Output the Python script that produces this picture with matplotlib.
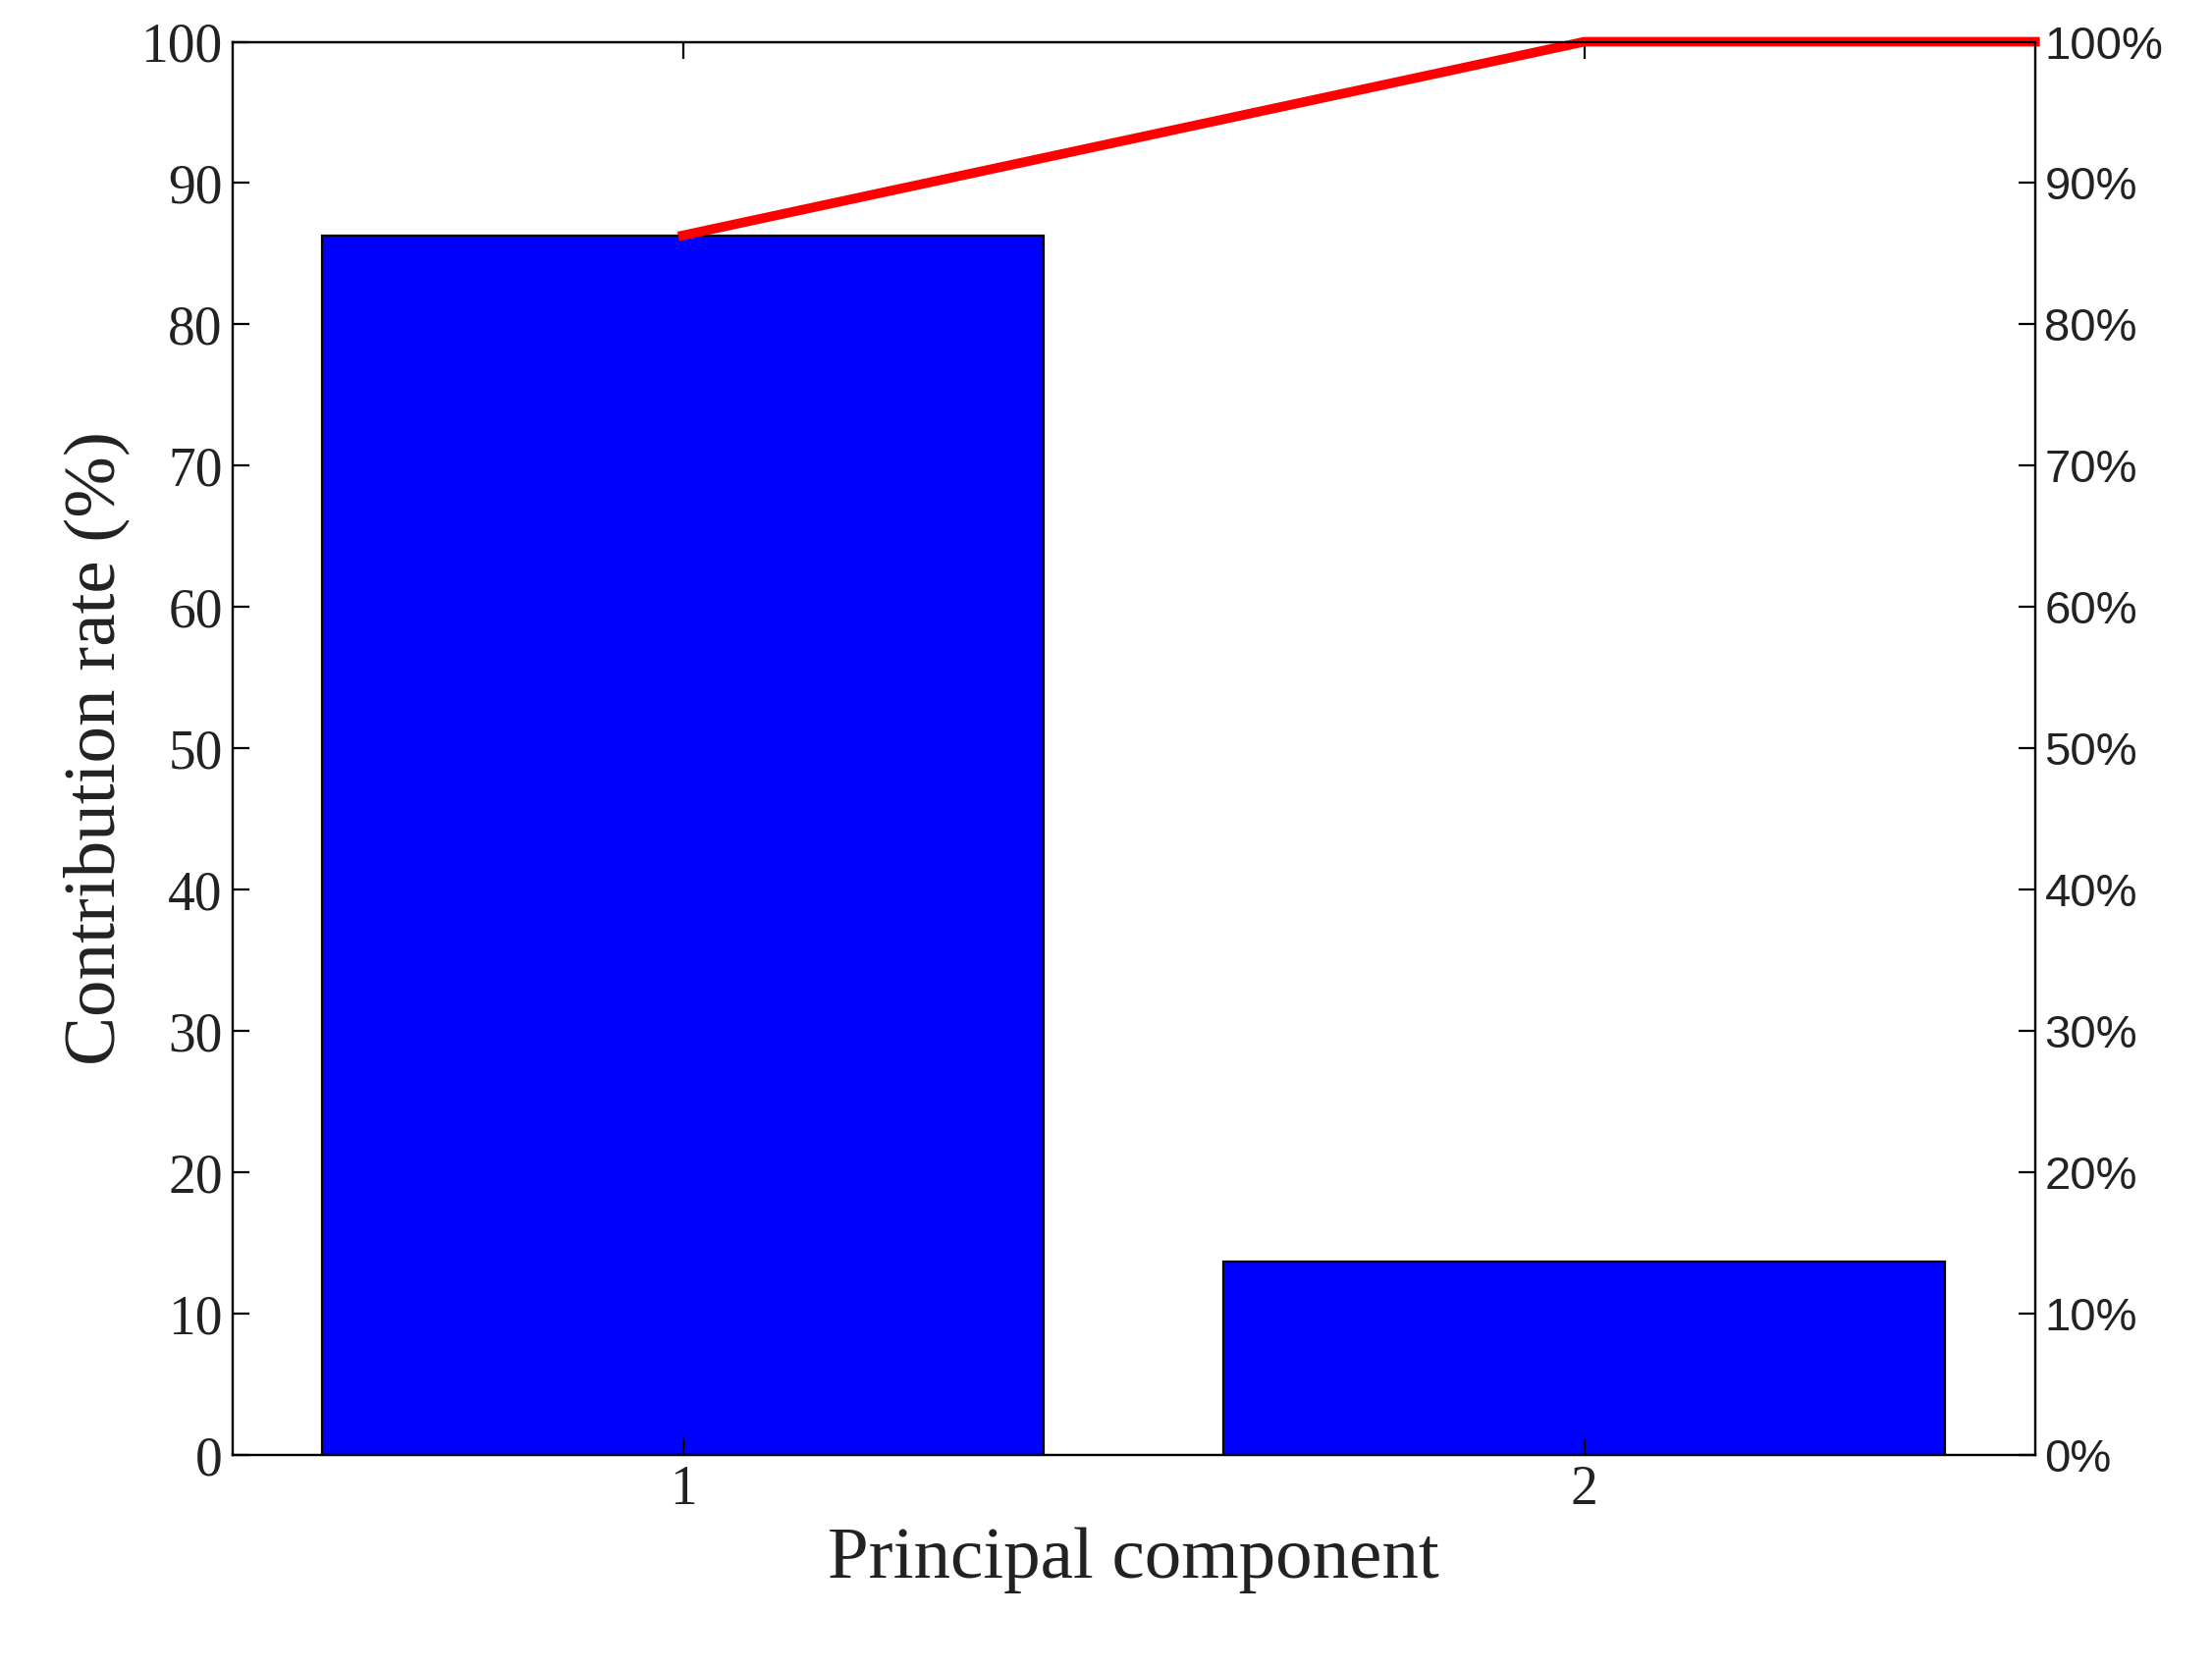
import matplotlib
matplotlib.use('Agg')
import matplotlib.pyplot as plt
import numpy as np

# data
components = [1, 2]
contribution = [86.3, 13.7]
cumulative = list(np.cumsum(contribution) / 100.0)

fig = plt.figure(figsize=(11.265, 8.5), dpi=200)
ax = fig.add_axes([0.105, 0.128, 0.815, 0.847])
serif = ['Liberation Serif', 'DejaVu Serif']

ax.bar(components, contribution, width=0.8, color='#0000ff', edgecolor='black', linewidth=0.8)
ax.set_xlim(0.5, 2.5)
ax.set_ylim(0, 100)
ax.set_yticks(range(0, 101, 10))
ax.set_xticks(components)
ax.tick_params(direction='in', length=6, labelsize=20, top=True)
for lab in ax.get_xticklabels() + ax.get_yticklabels():
    lab.set_fontfamily(serif)
    lab.set_color('#222222')
ax.set_xlabel('Principal component', fontsize=27, family=serif, color='#222222')
ax.set_ylabel('Contribution rate (%)', fontsize=27, family=serif, color='#222222')

ax2 = ax.twinx()
xs = components + [ax.get_xlim()[1]]
ys = cumulative + [cumulative[-1]]
ax2.plot(xs, ys, color='red', linewidth=3.5, clip_on=False)
ax2.set_ylim(0, 1)
ax2.set_yticks(np.linspace(0, 1, 11))
ax2.set_yticklabels([f'{int(v)}%' for v in range(0, 101, 10)])
ax2.tick_params(direction='in', length=6, labelsize=17)
for lab in ax2.get_yticklabels():
    lab.set_fontfamily(['Liberation Sans', 'DejaVu Sans'])
    lab.set_color('#222222')

fig.savefig('out.png', dpi=200)
